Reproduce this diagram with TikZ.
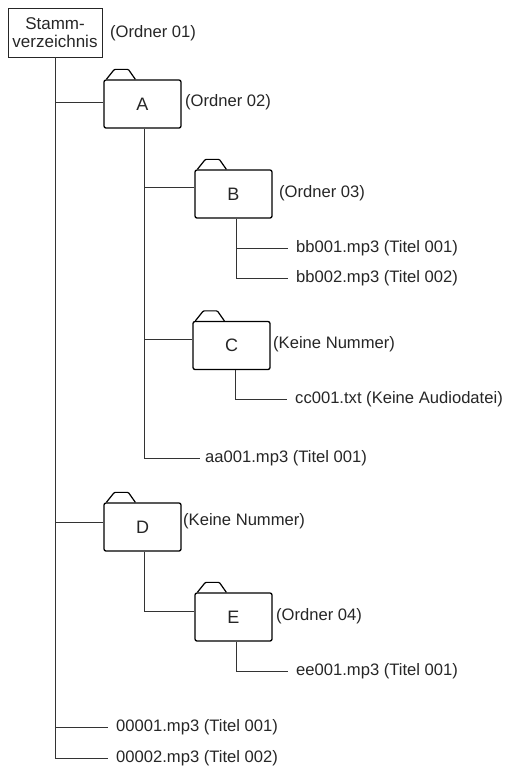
\documentclass[tikz,border=0pt]{standalone}
\usepackage{fontspec}
\setmainfont{Liberation Sans}
\begin{document}
\begin{tikzpicture}[x=1pt,y=-1pt,
  txt/.style={font=\fontsize{16.6}{19}\selectfont, text=black!85, inner sep=0pt},
  folder/.style={draw=black, line width=1.3pt, rounded corners=2pt, minimum width=77pt, minimum height=48pt,
     font=\fontsize{18}{20}\selectfont, text=black!85, inner sep=0pt},
  file/.style={txt, anchor=west, inner xsep=8pt},
  conn/.style={draw=black!80, line width=0.8pt},
  tab/.style={draw=black, line width=1.2pt, rounded corners=1pt}
]
\useasboundingbox (0,0) rectangle (512,769);
% root
\node[draw=black!85, line width=0.8pt, minimum width=94pt, minimum height=49pt, inner sep=0pt, align=center,
  font=\fontsize{17}{18.5}\selectfont, text=black!85] (root) at (55,32.5) {Stamm-\\verzeichnis};
\node[txt, anchor=west] (lroot) at (110,33) {(Ordner 01)};
% folders
\node[folder] (A) at (142.5,104) {A};
\node[folder] (B) at (233.5,194) {B};
\node[folder] (C) at (231.5,345.5) {C};
\node[folder] (D) at (142.5,527) {D};
\node[folder] (E) at (233.5,617) {E};
\foreach \f in {A,B,C,D,E}{
  \draw[tab] ([xshift=3pt]\f.north west) -- ([xshift=11pt,yshift=10pt]\f.north west)
     -- ([xshift=25pt,yshift=10pt]\f.north west) -- ([xshift=32pt]\f.north west);
}
% labels
\node[txt, anchor=west] (lA) at (185,102) {(Ordner 02)};
\node[txt, anchor=west] (lB) at (279,193) {(Ordner 03)};
\node[txt, anchor=west] (lC) at (273,344) {(Keine Nummer)};
\node[txt, anchor=west] (lD) at (183,521) {(Keine Nummer)};
\node[txt, anchor=west] (lE) at (276,616) {(Ordner 04)};
% files
\node[file] (bb1) at (288,248) {bb001.mp3 (Titel 001)};
\node[file] (bb2) at (288,278) {bb002.mp3 (Titel 002)};
\node[file] (cc1) at (287,399) {cc001.txt (Keine Audiodatei)};
\node[file, inner xsep=5pt] (aa1) at (200,458) {aa001.mp3 (Titel 001)};
\node[file] (ee1) at (288,671) {ee001.mp3 (Titel 001)};
\node[file] (r1) at (108,727) {00001.mp3 (Titel 001)};
\node[file] (r2) at (108,758) {00002.mp3 (Titel 002)};
% connectors
\draw[conn] (root.south) |- ([yshift=2pt]A.west);
\draw[conn] (root.south) |- ([yshift=5pt]D.west);
\draw[conn] (root.south) |- (r1.west);
\draw[conn] (root.south) |- (r2.west);
\draw[conn] ([xshift=1.5pt]A.south) |- ([yshift=7pt]B.west);
\draw[conn] ([xshift=1.5pt]A.south) |- ([yshift=6pt]C.west);
\draw[conn] ([xshift=1.5pt]A.south) |- (aa1.west);
\draw[conn] ([xshift=2.5pt]B.south) |- (bb1.west);
\draw[conn] ([xshift=2.5pt]B.south) |- (bb2.west);
\draw[conn] ([xshift=3.5pt]C.south) |- (cc1.west);
\draw[conn] ([xshift=1.5pt]D.south) |- ([yshift=6pt]E.west);
\draw[conn] ([xshift=2.5pt]E.south) |- (ee1.west);
\end{tikzpicture}
\end{document}
